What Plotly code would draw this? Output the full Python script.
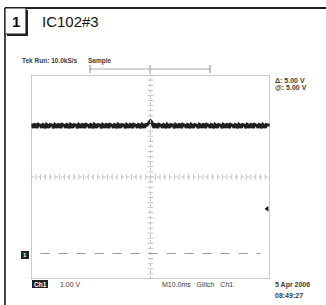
import plotly.graph_objects as go

W, H = 326, 305

# --- data ---
time_ms = [t / 2 for t in range(-100, 101)]  # sample times, 10 ms/div
ch1_volts = [
    5.06, 5.03, 4.93, 5.05, 5.04, 4.92, 5.06, 5.04, 5.02, 4.93,
    5.05, 5.03, 4.92, 5.06, 5.02, 4.93, 5.05, 5.04, 5.03, 4.92,
    5.06, 5.03, 4.93, 5.05, 5.04, 4.92, 5.06, 5.04, 5.02, 4.93,
    5.05, 5.03, 4.92, 5.06, 5.02, 4.93, 5.05, 5.04, 5.03, 4.92,
    5.06, 5.03, 4.93, 5.05, 5.04, 4.92, 5.06, 5.04, 5.02, 4.93,
    5.05, 5.03, 4.92, 5.06, 5.02, 4.93, 5.05, 5.04, 5.03, 4.92,
    5.06, 5.03, 4.93, 5.05, 5.04, 4.92, 5.06, 5.04, 5.02, 4.93,
    5.05, 5.03, 4.92, 5.06, 5.02, 4.93, 5.05, 5.04, 5.03, 4.92,
    5.06, 5.03, 4.93, 5.05, 5.04, 4.92, 5.06, 5.04, 5.02, 4.93,
    5.05, 5.03, 4.92, 5.06, 5.02, 4.93, 5.05, 5.04, 5.08, 5.15,
    5.20,
    5.15, 5.06, 4.93, 5.05, 5.04, 4.92, 5.06, 5.04, 5.02, 4.93,
    5.05, 5.03, 4.92, 5.06, 5.02, 4.93, 5.05, 5.04, 5.03, 4.92,
    5.06, 5.03, 4.93, 5.05, 5.04, 4.92, 5.06, 5.04, 5.02, 4.93,
    5.05, 5.03, 4.92, 5.06, 5.02, 4.93, 5.05, 5.04, 5.03, 4.92,
    5.06, 5.03, 4.93, 5.05, 5.04, 4.92, 5.06, 5.04, 5.02, 4.93,
    5.05, 5.03, 4.92, 5.06, 5.02, 4.93, 5.05, 5.04, 5.03, 4.92,
    5.06, 5.03, 4.93, 5.05, 5.04, 4.92, 5.06, 5.04, 5.02, 4.93,
    5.05, 5.03, 4.92, 5.06, 5.02, 4.93, 5.05, 5.04, 5.03, 4.92,
    5.06, 5.03, 4.93, 5.05, 5.04, 4.92, 5.06, 5.04, 5.02, 4.93,
    5.05, 5.03, 4.92, 5.06, 5.02, 4.93, 5.05, 5.04, 5.03, 5.04,
]
trigger_level = [1.75]
ground_level = 0.0
x_range = [-50, 50]
y_range = [-1, 7]

title_text = "IC102#3"
panel_number = "1"
header_text = "Tek Run: 10.0kS/s      Sample"
cursor_texts = ["Δ: 5.00 V", "@: 5.00 V"]
scale_text = "1.00 V"
time_text = "M10.0ms   Glitch   Ch1"
date_texts = ["5 Apr 2006", "08:49:27"]


def px(x):
    return x / W


def py(y):
    return 1 - y / H


# graticule pixel box
GL, GR, GT, GB = 31, 270, 75, 279

fig = go.Figure()

# minor ticks on center lines (0.2 div)
hx = [x_range[0] + i * 2 for i in range(51)]
vy = [y_range[0] + i * 0.2 for i in range(41)]
fig.add_trace(go.Scatter(x=hx, y=[3] * len(hx), mode="markers",
                         marker=dict(symbol="line-ns", size=4, line=dict(color="#c4c4c4", width=1)),
                         hoverinfo="skip", showlegend=False))
fig.add_trace(go.Scatter(x=[0] * len(vy), y=vy, mode="markers",
                         marker=dict(symbol="line-ew", size=4, line=dict(color="#c4c4c4", width=1)),
                         hoverinfo="skip", showlegend=False))

fig.add_trace(go.Scatter(
    x=time_ms, y=ch1_volts, mode="lines",
    line=dict(color="#1e1e1e", width=3.2), hoverinfo="skip", showlegend=False))

fig.add_trace(go.Scatter(
    x=[x_range[1] - 1.2], y=trigger_level, mode="markers",
    marker=dict(symbol="triangle-left", size=5, color="#111"),
    hoverinfo="skip", showlegend=False, cliponaxis=False))

shapes = [
    # graticule
    dict(type="rect", xref="x", yref="y", x0=x_range[0], x1=x_range[1], y0=y_range[0], y1=y_range[1],
         line=dict(color="#9a9a9a", width=1)),
    dict(type="line", xref="x", yref="y", x0=0, x1=0, y0=y_range[0], y1=y_range[1],
         line=dict(color="#c4c4c4", width=1, dash="dot")),
    dict(type="line", xref="x", yref="y", x0=x_range[0], x1=x_range[1], y0=3, y1=3,
         line=dict(color="#c4c4c4", width=1, dash="dot")),
    dict(type="line", xref="x", yref="y", x0=x_range[0] + 4, x1=46, y0=ground_level, y1=ground_level,
         line=dict(color="#9a9a9a", width=1, dash="dash")),
    # outer frame
    dict(type="line", xref="paper", yref="paper", x0=px(5), x1=px(326), y0=py(8), y1=py(8),
         line=dict(color="#222", width=2)),
    dict(type="line", xref="paper", yref="paper", x0=px(5), x1=px(5), y0=py(8), y1=py(305),
         line=dict(color="#444", width=2)),
    # panel number box with shadow
    dict(type="rect", xref="paper", yref="paper", x0=px(7), x1=px(28), y0=py(36), y1=py(10),
         fillcolor="#222", line=dict(width=0)),
    dict(type="rect", xref="paper", yref="paper", x0=px(5), x1=px(26), y0=py(34), y1=py(8),
         fillcolor="white", line=dict(color="#222", width=1.2)),
    # record bracket
    dict(type="line", xref="paper", yref="paper", x0=px(90), x1=px(210), y0=py(69), y1=py(69),
         line=dict(color="#aaa", width=1)),
    dict(type="line", xref="paper", yref="paper", x0=px(90), x1=px(90), y0=py(65), y1=py(73),
         line=dict(color="#888", width=1)),
    dict(type="line", xref="paper", yref="paper", x0=px(210), x1=px(210), y0=py(65), y1=py(73),
         line=dict(color="#888", width=1)),
    dict(type="line", xref="paper", yref="paper", x0=px(150), x1=px(150), y0=py(65), y1=py(74),
         line=dict(color="#999", width=1)),
    # Ch1 label box and ground marker
    dict(type="rect", xref="paper", yref="paper", x0=px(32), x1=px(48), y0=py(288), y1=py(280),
         fillcolor="#222", line=dict(width=0)),
    dict(type="rect", xref="paper", yref="paper", x0=px(21), x1=px(29), y0=py(259), y1=py(251),
         fillcolor="#222", line=dict(width=0)),
]

small = dict(family="Liberation Sans, Arial", size=7, color="#3a3a3a")
ann = [
    dict(x=px(15.5), y=py(21), text="<b>" + panel_number + "</b>",
         font=dict(family="Liberation Sans, Arial", size=15, color="#111"),
         xanchor="center", yanchor="middle"),
    dict(x=px(40), y=py(21), text=title_text, font=dict(family="Liberation Sans, Arial", size=15, color="#111"),
         xanchor="left", yanchor="middle"),
    dict(x=px(20), y=py(61), text="<b>" + header_text + "</b>", font=dict(small, size=6.5),
         xanchor="left", yanchor="middle"),
    dict(x=px(273), y=py(80), text="<b>" + cursor_texts[0] + "</b>", font=small, xanchor="left", yanchor="middle"),
    dict(x=px(273), y=py(87), text="<b>" + cursor_texts[1] + "</b>", font=small, xanchor="left", yanchor="middle"),
    dict(x=px(40), y=py(284), text="<b>Ch1</b>", font=dict(family="Liberation Sans, Arial", size=6.5, color="white"),
         xanchor="center", yanchor="middle"),
    dict(x=px(25), y=py(255), text="<b>1</b>", font=dict(family="Liberation Sans, Arial", size=6, color="white"),
         xanchor="center", yanchor="middle"),
    dict(x=px(58), y=py(284), text=scale_text, font=small, xanchor="left", yanchor="middle"),
    dict(x=px(160), y=py(284), text=time_text, font=small, xanchor="left", yanchor="middle"),
    dict(x=px(273), y=py(285), text="<b>" + date_texts[0] + "</b>", font=small, xanchor="left", yanchor="middle"),
    dict(x=px(273), y=py(295), text="<b>" + date_texts[1] + "</b>", font=small, xanchor="left", yanchor="middle"),
]
for a in ann:
    a.update(xref="paper", yref="paper", showarrow=False)

fig.update_layout(
    width=W, height=H,
    margin=dict(l=0, r=0, t=0, b=0),
    paper_bgcolor="white", plot_bgcolor="white",
    xaxis=dict(domain=[px(GL), px(GR)], range=x_range, visible=False, showgrid=False, zeroline=False),
    yaxis=dict(domain=[py(GB), py(GT)], range=y_range, visible=False, showgrid=False, zeroline=False),
    shapes=shapes, annotations=ann,
)

fig.write_html("out.html", config={"displayModeBar": False},
               post_script="document.body.style.margin='0';document.body.style.overflow='hidden';")
